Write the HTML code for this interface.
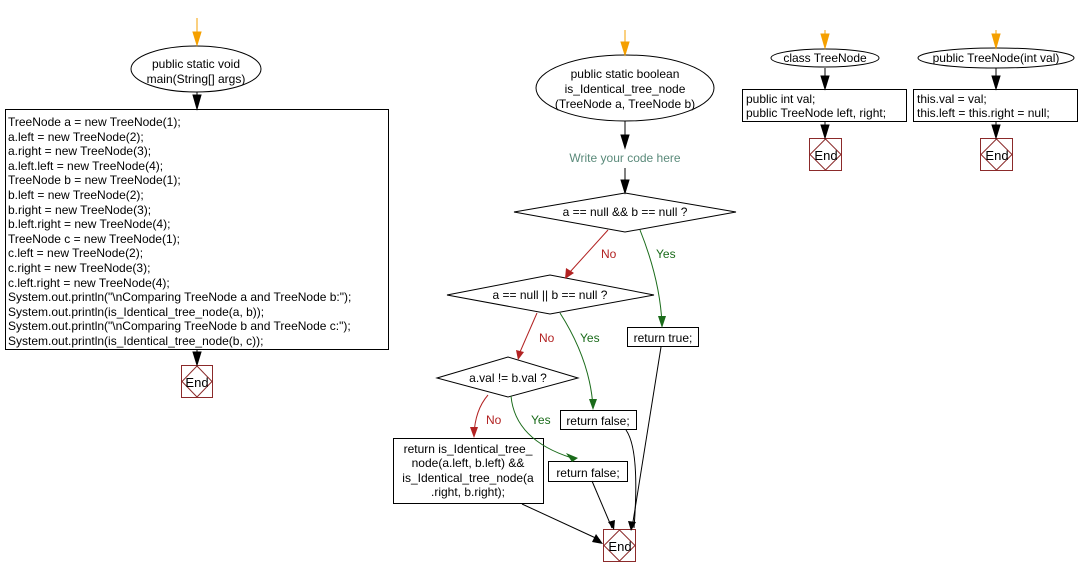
<!DOCTYPE html>
<html><head><meta charset="utf-8"><style>
html,body{margin:0;padding:0;background:#fff;}
svg{display:block;font-family:"Liberation Sans",Arial,sans-serif;font-size:12px;}
</style></head><body>
<svg width="1079" height="577" viewBox="0 0 1079 577" xmlns="http://www.w3.org/2000/svg">
<defs>
<marker id="ab" markerWidth="8" markerHeight="12" refX="4" refY="11" orient="auto" markerUnits="userSpaceOnUse"><path d="M0,0 L8,0 L4,12 Z" fill="#000" transform="rotate(0)"/></marker>
</defs>
<g fill="none" stroke="#000" stroke-width="1">
<!-- left -->
<ellipse cx="196" cy="69" rx="65" ry="23"/>
<rect x="5.5" y="109.5" width="383" height="240"/>
<!-- middle -->
<ellipse cx="625" cy="88" rx="89" ry="33"/>
<polygon points="514,212 625,193 736,212 625,232"/>
<polygon points="447,295 550,275 654,295 550,314"/>
<polygon points="437,378 508,357 578,378 508,397"/>
<rect x="627.5" y="327.5" width="71" height="19"/>
<rect x="560.5" y="410.5" width="76" height="19"/>
<rect x="393.5" y="438.5" width="150" height="65"/>
<rect x="548.5" y="461.5" width="79" height="20"/>
<!-- right -->
<ellipse cx="825" cy="58" rx="54" ry="9"/>
<ellipse cx="996" cy="58" rx="78" ry="10"/>
<rect x="742.5" y="89.5" width="164" height="32"/>
<rect x="913.5" y="89.5" width="164" height="32"/>
</g>
<!-- End boxes -->
<g fill="none" stroke="#8b2a2a" stroke-width="1">
<rect x="181.5" y="365.5" width="31" height="32"/><polygon points="197,366 212,381.5 197,397 182,381.5"/>
<rect x="603.5" y="529.5" width="32" height="32"/><polygon points="619.5,530 635,545.5 619.5,561 604,545.5"/>
<rect x="809.5" y="138.5" width="32" height="32"/><polygon points="825.5,139 841,154.5 825.5,170 810,154.5"/>
<rect x="980.5" y="138.5" width="32" height="32"/><polygon points="996.5,139 1012,154.5 996.5,170 981,154.5"/>
</g>
<g font-size="13" text-anchor="middle" fill="#000">
<text x="197" y="387">End</text><text x="620" y="551">End</text><text x="826" y="160">End</text><text x="997" y="160">End</text>
</g>
<!-- orange arrows -->
<g stroke="#f5a000" fill="#f5a000">
<line x1="197" y1="18" x2="197" y2="36"/><path d="M193,32 L201,32 L197,45 Z"/>
<line x1="625" y1="30" x2="625" y2="44"/><path d="M621,42 L629,42 L625,55 Z"/>
<line x1="825" y1="30" x2="825" y2="38"/><path d="M821,34 L829,34 L825,48 Z"/>
<line x1="996" y1="30" x2="996" y2="38"/><path d="M992,34 L1000,34 L996,48 Z"/>
</g>
<!-- black straight arrows -->
<g stroke="#000" fill="#000">
<line x1="197" y1="92" x2="197" y2="100"/><path d="M193,95 L201,95 L197,109 Z"/>
<line x1="197" y1="349" x2="197" y2="356"/><path d="M193,352 L201,352 L197,365 Z"/>
<line x1="625" y1="121" x2="625" y2="138"/><path d="M621,135 L629,135 L625,148 Z"/>
<line x1="625" y1="168" x2="625" y2="182"/><path d="M621,180 L629,180 L625,193 Z"/>
<line x1="825" y1="68" x2="825" y2="80"/><path d="M821,76 L829,76 L825,89 Z"/>
<line x1="996" y1="68" x2="996" y2="80"/><path d="M992,76 L1000,76 L996,89 Z"/>
<line x1="825" y1="122" x2="825" y2="130"/><path d="M821,125 L829,125 L825,138 Z"/>
<line x1="996" y1="122" x2="996" y2="130"/><path d="M992,125 L1000,125 L996,138 Z"/>
</g>
<!-- branch connectors -->
<g fill="none" stroke-width="1">
<path d="M608,230 L570,272" stroke="#b22222"/>
<path d="M640,230 Q660,280 662,324" stroke="#1a6b1a"/>
<path d="M537,313 L520,352" stroke="#b22222"/>
<path d="M560,313 Q590,360 593,407" stroke="#1a6b1a"/>
<path d="M488,395 Q475,410 474,435" stroke="#b22222"/>
<path d="M511,396 Q515,440 572,458" stroke="#1a6b1a"/>
<path d="M661,347 L632,528" stroke="#000"/>
<path d="M626,430 Q640,450 634,528" stroke="#000"/>
<path d="M592,481 L612,528" stroke="#000"/>
<path d="M522,504 L600,540" stroke="#000"/>
</g>
<g>
<path d="M566,268 L574,273 L565,279 Z" fill="#b22222"/>
<path d="M658,316 L666,316 L662,328 Z" fill="#1a6b1a"/>
<path d="M516,350 L524,352 L518,360 Z" fill="#b22222"/>
<path d="M589,399 L597,399 L593,410 Z" fill="#1a6b1a"/>
<path d="M470,427 L478,427 L474,438 Z" fill="#b22222"/>
<path d="M566,453 L572,462 L578,458 Z" fill="#1a6b1a"/>
<path d="M628,521 L636,522 L631,531 Z" fill="#000"/>
<path d="M608,522 L615,520 L614,530 Z" fill="#000"/>
<path d="M596,534 L603,544 L592,542 Z" fill="#000"/>
</g>
<!-- labels -->
<g font-size="12" fill="#b22222"><text x="601" y="258">No</text><text x="539" y="342">No</text><text x="486" y="424">No</text></g>
<g font-size="12" fill="#1a6b1a"><text x="656" y="258">Yes</text><text x="580" y="342">Yes</text><text x="531" y="424">Yes</text></g>
<text x="625" y="162" font-size="12" text-anchor="middle" fill="#5a8a7a">Write your code here</text>
<g font-size="12" text-anchor="middle" fill="#000">
<text x="196" y="68">public static void</text><text x="196" y="83">main(String[] args)</text>
<text x="625" y="78">public static boolean</text><text x="625" y="93">is_Identical_tree_node</text><text x="625" y="108">(TreeNode a, TreeNode b)</text>
<text x="625" y="216">a == null &amp;&amp; b == null ?</text>
<text x="550" y="299">a == null || b == null ?</text>
<text x="508" y="382">a.val != b.val ?</text>
<text x="663" y="342">return true;</text>
<text x="598" y="425">return false;</text>
<text x="588" y="477">return false;</text>
<text x="468" y="453">return is_Identical_tree_</text><text x="468" y="467">node(a.left, b.left) &amp;&amp;</text><text x="468" y="482">is_Identical_tree_node(a</text><text x="468" y="496">.right, b.right);</text>
<text x="825" y="62">class TreeNode</text>
<text x="996" y="62">public TreeNode(int val)</text>
</g>
<g font-size="12" fill="#000">
<text x="746" y="103">public int val;</text><text x="746" y="117">public TreeNode left, right;</text>
<text x="917" y="103">this.val = val;</text><text x="917" y="117">this.left = this.right = null;</text>
</g>
<g font-size="12" fill="#000">
<text x="8" y="126">TreeNode a = new TreeNode(1);</text>
<text x="8" y="141">a.left = new TreeNode(2);</text>
<text x="8" y="155">a.right = new TreeNode(3);</text>
<text x="8" y="170">a.left.left = new TreeNode(4);</text>
<text x="8" y="184">TreeNode b = new TreeNode(1);</text>
<text x="8" y="199">b.left = new TreeNode(2);</text>
<text x="8" y="214">b.right = new TreeNode(3);</text>
<text x="8" y="228">b.left.right = new TreeNode(4);</text>
<text x="8" y="243">TreeNode c = new TreeNode(1);</text>
<text x="8" y="257">c.left = new TreeNode(2);</text>
<text x="8" y="272">c.right = new TreeNode(3);</text>
<text x="8" y="287">c.left.right = new TreeNode(4);</text>
<text x="8" y="301">System.out.println("\nComparing TreeNode a and TreeNode b:");</text>
<text x="8" y="316">System.out.println(is_Identical_tree_node(a, b));</text>
<text x="8" y="330">System.out.println("\nComparing TreeNode b and TreeNode c:");</text>
<text x="8" y="345">System.out.println(is_Identical_tree_node(b, c));</text>
</g>
</svg>
</body></html>
